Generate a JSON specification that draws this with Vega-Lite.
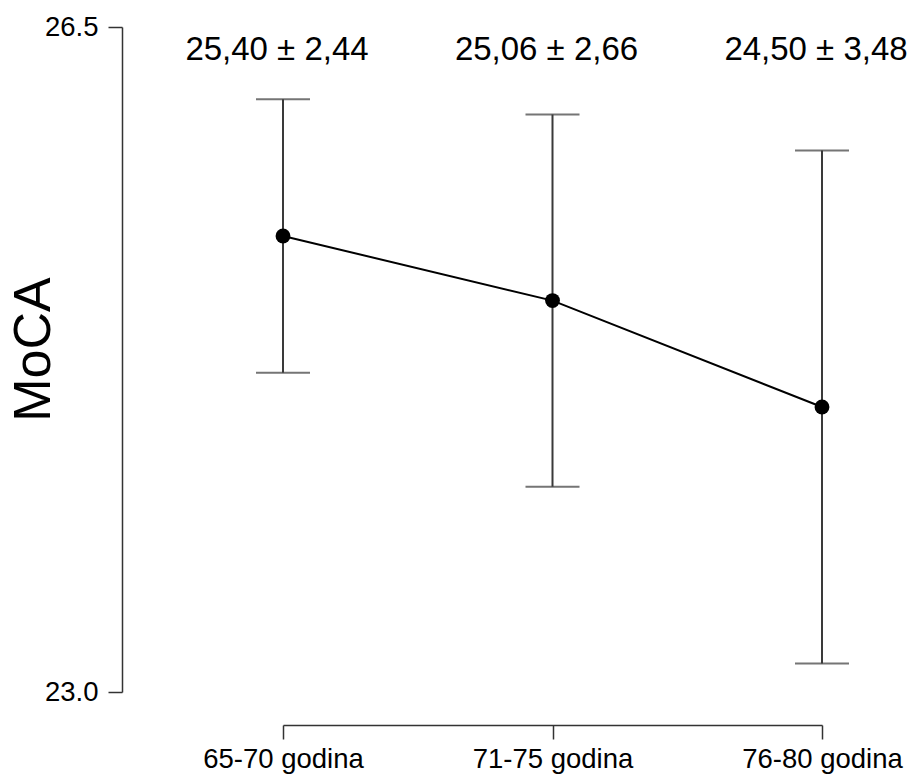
{
  "$schema": "https://vega.github.io/schema/vega-lite/v6.json",
  "autosize": "none",
  "width": 539,
  "height": 665,
  "padding": {"left": 283, "top": 27, "right": 88, "bottom": 86},
  "background": "white",
  "config": {
    "view": {"stroke": null},
    "font": "Liberation Sans",
    "axis": {
      "grid": false,
      "domainColor": "#333333",
      "domainWidth": 1.5,
      "tickColor": "#333333",
      "tickWidth": 1.5,
      "tickSize": 14,
      "labelColor": "black",
      "labelFont": "Liberation Sans",
      "labelFontSize": 27.5
    }
  },
  "data": {
    "values": [
      {"group": "65-70 godina", "mean": 25.40, "sd": 2.44, "lo": 24.68, "hi": 26.12},
      {"group": "71-75 godina", "mean": 25.06, "sd": 2.66, "lo": 24.08, "hi": 26.04},
      {"group": "76-80 godina", "mean": 24.50, "sd": 3.48, "lo": 23.15, "hi": 25.85}
    ]
  },
  "encoding": {
    "x": {
      "field": "group",
      "type": "nominal",
      "sort": null,
      "scale": {"type": "point", "padding": 0},
      "axis": {"title": null, "labelAngle": 0, "offset": 33, "labelPadding": 6}
    }
  },
  "layer": [
    {
      "mark": {"type": "rule", "color": "#3a3a3a", "strokeWidth": 2},
      "encoding": {
        "y": {
          "field": "lo",
          "type": "quantitative",
          "scale": {"domain": [23, 26.5], "nice": false, "zero": false},
          "axis": {
            "title": "MoCA",
            "titleFont": "Liberation Sans",
            "titleFontSize": 52,
            "titleFontWeight": "normal",
            "titleColor": "black",
            "titleAngle": -90,
            "titleAlign": "center",
            "titleBaseline": "middle",
            "titleX": -89,
            "titleY": 322,
            "values": [23, 26.5],
            "format": ".1f",
            "offset": 161,
            "labelPadding": 10
          }
        },
        "y2": {"field": "hi"}
      }
    },
    {
      "mark": {"type": "tick", "color": "#3a3a3a", "size": 54, "thickness": 2, "orient": "horizontal"},
      "encoding": {"y": {"field": "hi", "type": "quantitative"}}
    },
    {
      "mark": {"type": "tick", "color": "#3a3a3a", "size": 54, "thickness": 2, "orient": "horizontal"},
      "encoding": {"y": {"field": "lo", "type": "quantitative"}}
    },
    {
      "mark": {"type": "line", "color": "black", "strokeWidth": 2},
      "encoding": {"y": {"field": "mean", "type": "quantitative"}}
    },
    {
      "mark": {"type": "point", "filled": true, "color": "black", "size": 220, "opacity": 1},
      "encoding": {"y": {"field": "mean", "type": "quantitative"}}
    },
    {
      "transform": [
        {
          "calculate": "replace(format(datum.mean, '.2f'), '.', ',') + ' ± ' + replace(format(datum.sd, '.2f'), '.', ',')",
          "as": "label"
        }
      ],
      "mark": {"type": "text", "font": "Liberation Sans", "fontSize": 33, "color": "black", "baseline": "middle", "align": "center", "dx": -6},
      "encoding": {
        "y": {"datum": 26.38, "type": "quantitative"},
        "text": {"field": "label"}
      }
    }
  ]
}
